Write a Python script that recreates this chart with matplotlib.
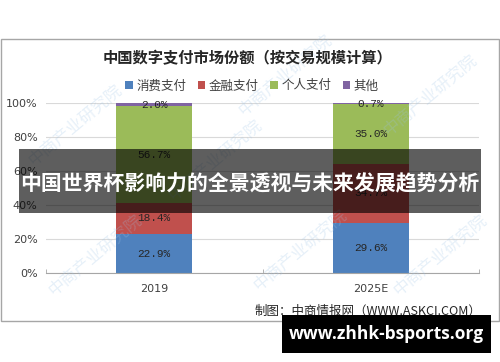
import matplotlib
matplotlib.use('Agg')
import matplotlib.pyplot as plt
from matplotlib.patches import Rectangle
import numpy as np

plt.rcParams['font.family'] = ['Noto Sans CJK SC', 'DejaVu Sans']

# 数据
years = ['2019', '2025E']
series = ['消费支付', '金融支付', '个人支付', '其他']
consumo = [22.9, 29.6]
financeiro = [18.4, 34.7]
pessoal = [56.7, 35.0]
outros = [2.0, 0.7]
valores = [consumo, financeiro, pessoal, outros]
cores = ['#4F81BD', '#C0504D', '#9BBB59', '#8064A2']

W, H = 500, 362
fig = plt.figure(figsize=(W / 100, H / 100), dpi=100)

def fx(px):
    return px / W

def fy(py):
    return 1 - py / H

# moldura do gráfico
fig.add_artist(Rectangle((fx(0.5), fy(321)), fx(498.5), (321 - 39) / H,
                         transform=fig.transFigure, fill=False,
                         edgecolor='#a6a6a6', linewidth=1.0))

ax = fig.add_axes([fx(46), fy(273), fx(479 - 46), (273 - 103) / H])
x = np.arange(len(years))
base = np.zeros(len(years))
for nome, vals, cor in zip(series, valores, cores):
    ax.bar(x, vals, width=0.35, bottom=base, color=cor, label=nome, zorder=2)
    for xi, b, v in zip(x, base, vals):
        ax.text(xi, b + v / 2, f'{v:.1f}%', ha='center', va='center',
                fontsize=8, family='Liberation Mono', color='#262626', zorder=3)
    base = base + np.array(vals)

ax.set_xlim(-0.5, 1.5)
ax.set_ylim(0, 100)
ax.set_yticks([0, 20, 40, 60, 80, 100])
ax.set_yticklabels([f'{v}%' for v in [0, 20, 40, 60, 80, 100]],
                   family='DejaVu Sans', fontsize=8, color='#404040')
ax.set_xticks(x)
ax.set_xticklabels(years, family='DejaVu Sans', fontsize=8, color='#404040')
ax.set_xticks([-0.5, 0.5, 1.5], minor=True)
ax.tick_params(axis='x', which='major', length=0, pad=8)
ax.tick_params(axis='x', which='minor', length=3, color='#a6a6a6', direction='in')
ax.tick_params(axis='y', length=0, pad=6)
ax.grid(axis='y', color='#d9d9d9', linewidth=0.8, zorder=0)
for s in ['top', 'right', 'left']:
    ax.spines[s].set_visible(False)
ax.spines['bottom'].set_color('#a6a6a6')
ax.set_facecolor('none')

fig.text(fx(247), fy(58), '中国数字支付市场份额（按交易规模计算）', ha='center', va='center',
         fontsize=11, fontweight='bold', color='#262626')

leg = fig.legend(loc='center', bbox_to_anchor=(fx(252), fy(86)), ncol=4, frameon=False,
                 fontsize=9, handlelength=0.6, handleheight=0.6, handletextpad=0.3,
                 columnspacing=0.9)
for t in leg.get_texts():
    t.set_color('#404040')

fig.text(fx(481), fy(311), '制图：中商情报网（WWW.ASKCI.COM）', ha='right', va='center',
         fontsize=9, color='#262626')

# marcas d'água
for (wx, wy) in [(75, 125), (285, 75), (430, 95), (95, 255), (300, 250), (440, 255), (215, 160)]:
    fig.text(fx(wx), fy(wy), '中商产业研究院', ha='center', va='center', rotation=40,
             fontsize=12, color='#9dc3e6', alpha=0.25, zorder=1)

# faixa escura no meio
fig.add_artist(Rectangle((fx(19), fy(213)), fx(481 - 19), (213 - 149) / H,
                         transform=fig.transFigure, facecolor='black', alpha=0.63,
                         edgecolor='none', zorder=10))
fig.text(fx(250), fy(184), '中国世界杯影响力的全景透视与未来发展趋势分析', ha='center', va='center',
         fontsize=15, fontweight='bold', color='white', zorder=11)

# faixa preta inferior
fig.add_artist(Rectangle((fx(282), fy(353)), fx(491 - 282), (353 - 315) / H,
                         transform=fig.transFigure, facecolor='black',
                         edgecolor='none', zorder=10))
fig.text(fx(386), fy(334), 'www.zhhk-bsports.org', ha='center', va='center',
         fontsize=12.5, fontweight='bold', family='Open Sans', color='white', zorder=11)

fig.savefig('out.png', dpi=100)
